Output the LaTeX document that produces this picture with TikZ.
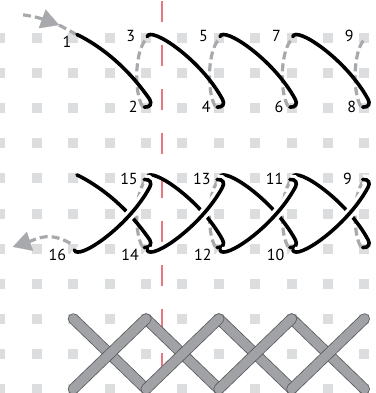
\documentclass[tikz,border=0pt]{standalone}
\usepackage{fontspec}
\setsansfont{PT Sans}
\usetikzlibrary{arrows.meta}
\definecolor{holegray}{RGB}{220,221,223}
\definecolor{backgray}{RGB}{167,169,172}
\definecolor{barfill}{RGB}{161,162,166}
\definecolor{baredge}{RGB}{88,89,91}
\definecolor{cutred}{RGB}{234,118,128}
\begin{document}
\begin{tikzpicture}[
		x=18.2pt, y=17.55pt,
		hole/.style={fill=holegray, minimum width=5pt, minimum height=5pt, inner sep=0pt},
		thread/.style={black, line width=1.8pt, line cap=round},
		over/.style={thread, preaction={draw=white, line width=5pt}},
		back/.style={backgray, line width=1.6pt, dash pattern=on 4pt off 2pt},
		tip/.style={-{Triangle[length=9pt, width=10pt, line width=0.1pt]}},
		bar/.style={draw=baredge, double=barfill, double distance=4.7pt,
			line width=0.4pt, line cap=round},
		num/.style={font=\sffamily\fontsize{8}{8}\selectfont, inner sep=0pt}
	]
		\useasboundingbox (-0.0137,1.0826) rectangle (10.316,-10.114);

		% 各部分 y 坐标
		\def\ya{0}
		\def\yb{-4}
		\def\ybb{-6}

		% 孔位网格
		\foreach \c in {0,...,10}
			\foreach \r in {0,...,10}
				\node[hole] (h\c-\r) at (\c,-\r) {};

		% 中线
		\coordinate (cuttop) at (4.437,1.054);
		\coordinate (cutbot) at (4.437,-9.573);
		\draw[cutred, line width=0.75pt, dash pattern=on 10.5pt off 11.5pt] (cuttop) -- (cutbot);

		% 第一行：去程
		\coordinate (in0) at (0.62,0.66);
		\coordinate (in1) at (1.61,0.37);
		\coordinate (in2) at (2.07,0.11);
		\draw[back, tip] (in0) to[out=-8, in=160] (in1);
		\draw[back] (in1) -- (in2);
		\foreach \c in {4,6,8,10}
			\draw[back] (\c-0.1,\ya-1.95) .. controls (\c-0.35,\ya-1.5) and (\c-0.3,\ya-0.3) .. (\c+0.02,\ya-0.02);
		\draw[thread] (2.1,\ya+0.1) .. controls (2.6,\ya-0.15) and (3.4,\ya-0.7) .. (4.1,\ya-1.75)
			.. controls (4.16,\ya-1.87) and (4.12,\ya-1.98) .. (3.95,\ya-1.97);
		\foreach \c in {4,6,8}
			\draw[thread] (\c+0.03,\ya+0.04) .. controls (\c+0.12,\ya+0.35) and (\c+1.5,\ya-0.6) .. (\c+2.1,\ya-1.75)
				.. controls (\c+2.16,\ya-1.87) and (\c+2.12,\ya-1.98) .. (\c+1.95,\ya-1.97);
		\node[num] (a1) at (1.83,\ya-0.11) {1};
		\foreach \c/\t in {4/3,6/5,8/7,10/9}
			\node[num] (a\t) at (\c-0.42,\ya+0.06) {\t};
		\foreach \c/\t in {4/2,6/4,8/6,10/8}
			\node[num] (a\t) at (\c-0.35,\ya-1.97) {\t};

		% 第二行：去程 + 回程
		\foreach \c in {4,6,8,10}
			\draw[back] (\c-0.1,\yb-1.95) .. controls (\c-0.35,\yb-1.5) and (\c-0.3,\yb-0.3) .. (\c+0.02,\yb-0.02);
		\coordinate (out0) at (1.92,\ybb+0.15);
		\coordinate (out1) at (0.34,\ybb+0.05);
		\draw[back, tip] (out0) to[out=150, in=18, looseness=1.1] (out1);
		\draw[thread] (2.1,\yb+0.1) .. controls (2.6,\yb-0.15) and (3.4,\yb-0.7) .. (4.1,\yb-1.75)
			.. controls (4.16,\yb-1.87) and (4.12,\yb-1.98) .. (3.95,\yb-1.97);
		\foreach \c in {4,6,8}
			\draw[thread] (\c+0.03,\yb+0.04) .. controls (\c+0.12,\yb+0.35) and (\c+1.5,\yb-0.6) .. (\c+2.1,\yb-1.75)
				.. controls (\c+2.16,\yb-1.87) and (\c+2.12,\yb-1.98) .. (\c+1.95,\yb-1.97);
		\foreach \c in {2,4,6,8}
			\draw[over] (\c+0.03,\ybb-0.04) .. controls (\c+0.12,\ybb-0.35) and (\c+1.5,\ybb+0.6) .. (\c+2.1,\ybb+1.75)
				.. controls (\c+2.16,\ybb+1.87) and (\c+2.12,\ybb+1.98) .. (\c+1.95,\ybb+1.97);
		\foreach \c/\t in {4/15,6/13,8/11,10/9}
			\node[num] (b\t) at (\c-0.47,\yb-0.02) {\t};
		\foreach \c/\t in {2/16,4/14,6/12,8/10}
			\node[num] (b\t) at (\c-0.44,\ybb-0.19) {\t};

		% 第三行：完成的十字绣
		\foreach \c in {2,4,6,8}
			\draw[bar] (h\c-8.center) -- (h\the\numexpr\c+2\relax-10.center);
		\foreach \c in {2,4,6,8}
			\draw[bar] (h\c-10.center) -- (h\the\numexpr\c+2\relax-8.center);
\end{tikzpicture}
\end{document}
